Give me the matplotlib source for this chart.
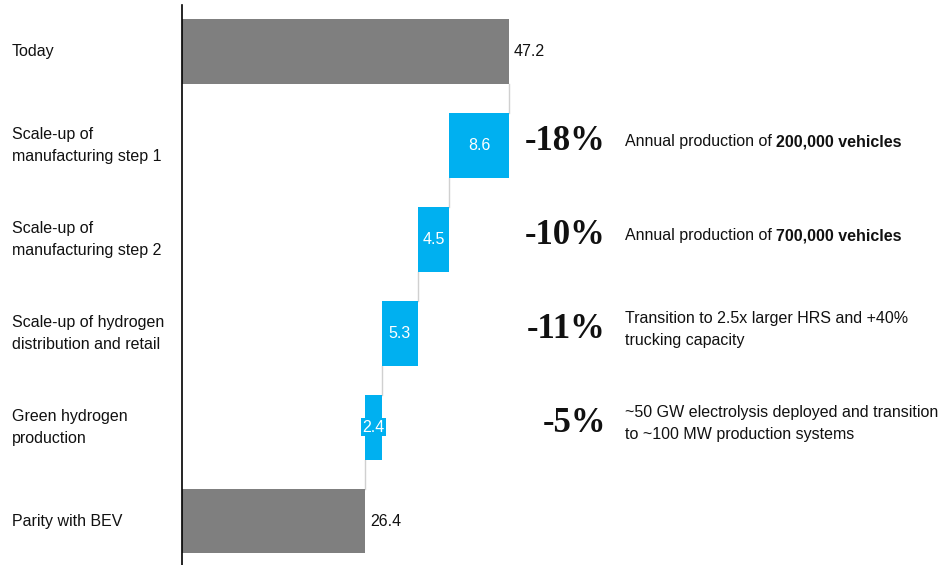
import numpy as np
import matplotlib
matplotlib.use("Agg")
import matplotlib.pyplot as plt
from matplotlib.transforms import blended_transform_factory

# chart data
categories = ["Today", "Scale-up of\nmanufacturing step 1", "Scale-up of\nmanufacturing step 2",
              "Scale-up of hydrogen\ndistribution and retail", "Green hydrogen\nproduction",
              "Parity with BEV"]
values = [47.2, -8.6, -4.5, -5.3, -2.4, 26.4]
is_total = [True, False, False, False, False, True]
pct_labels = ["", "-18%", "-10%", "-11%", "-5%", ""]
note_plain = ["", "Annual production of ", "Annual production of ",
              "Transition to 2.5x larger HRS and +40%\ntrucking capacity",
              "~50 GW electrolysis deployed and transition\nto ~100 MW production systems", ""]
note_bold = ["", "200,000 vehicles", "700,000 vehicles", "", "", ""]

GREY = "#7f7f7f"
BLUE = "#00b0f0"
SANS = ["Liberation Sans", "DejaVu Sans"]
SERIF = ["Liberation Serif", "DejaVu Serif"]

fig = plt.figure(figsize=(9.47, 5.65), dpi=100)
ax = fig.add_axes([182 / 947, 0, 1 - 182 / 947, 560 / 565])

# waterfall geometry
lefts, widths, ends = [], [], []
running = 0.0
for v, tot in zip(values, is_total):
    if tot:
        lefts.append(0.0)
        widths.append(v)
        running = v
    else:
        lefts.append(running + v)
        widths.append(-v)
        running = running + v
    ends.append(running)

h = 0.69
ys = np.arange(len(values))
colors = [GREY if t else BLUE for t in is_total]
ax.barh(ys, widths, left=lefts, height=h, color=colors, edgecolor="none")

# connectors
for i in range(len(values) - 1):
    ax.plot([ends[i], ends[i]], [ys[i] + h / 2, ys[i + 1] - h / 2],
            color="#d0d0d0", lw=1.0, zorder=0)

# value labels
for i, (l, w, tot) in enumerate(zip(lefts, widths, is_total)):
    if tot:
        ax.text(l + w + 0.7, ys[i], "{:.1f}".format(w), ha="left", va="center",
                fontsize=11.5, family=SANS, color="#111111")
    else:
        bbox = None
        if w < 3:
            bbox = dict(boxstyle="square,pad=0.1", fc=BLUE, ec="none")
        ax.text(l + w / 2, ys[i], "{:.1f}".format(w), ha="center", va="center",
                fontsize=11.5, family=SANS, color="white", bbox=bbox)

ax.set_xlim(0, (947 - 182) / 6.93)
ax.set_ylim(5.468, -0.495)
for s in ["top", "right", "bottom"]:
    ax.spines[s].set_visible(False)
ax.spines["left"].set_linewidth(1.2)
ax.set_xticks([])
ax.set_yticks([])

tr = blended_transform_factory(fig.transFigure, ax.transData)
for i, cat in enumerate(categories):
    ax.text(12 / 947, ys[i], cat, transform=tr, ha="left", va="center",
            fontsize=11.5, family=SANS, linespacing=1.6, color="#111111")
    if pct_labels[i]:
        ax.text(606 / 947, ys[i] - 0.04, pct_labels[i], transform=tr, ha="right",
                va="center", fontsize=25, family=SERIF, fontweight="bold", color="#111111")
        t1 = ax.text(625 / 947, ys[i] - 0.04, note_plain[i], transform=tr, ha="left",
                     va="center", fontsize=11.5, family=SANS, linespacing=1.55,
                     color="#111111")
        if note_bold[i]:
            ax.annotate(note_bold[i], xy=(1, 0), xycoords=t1, ha="left", va="bottom",
                        fontsize=11.5, family=SANS, fontweight="bold", color="#111111")

fig.savefig("out.png", dpi=100)
